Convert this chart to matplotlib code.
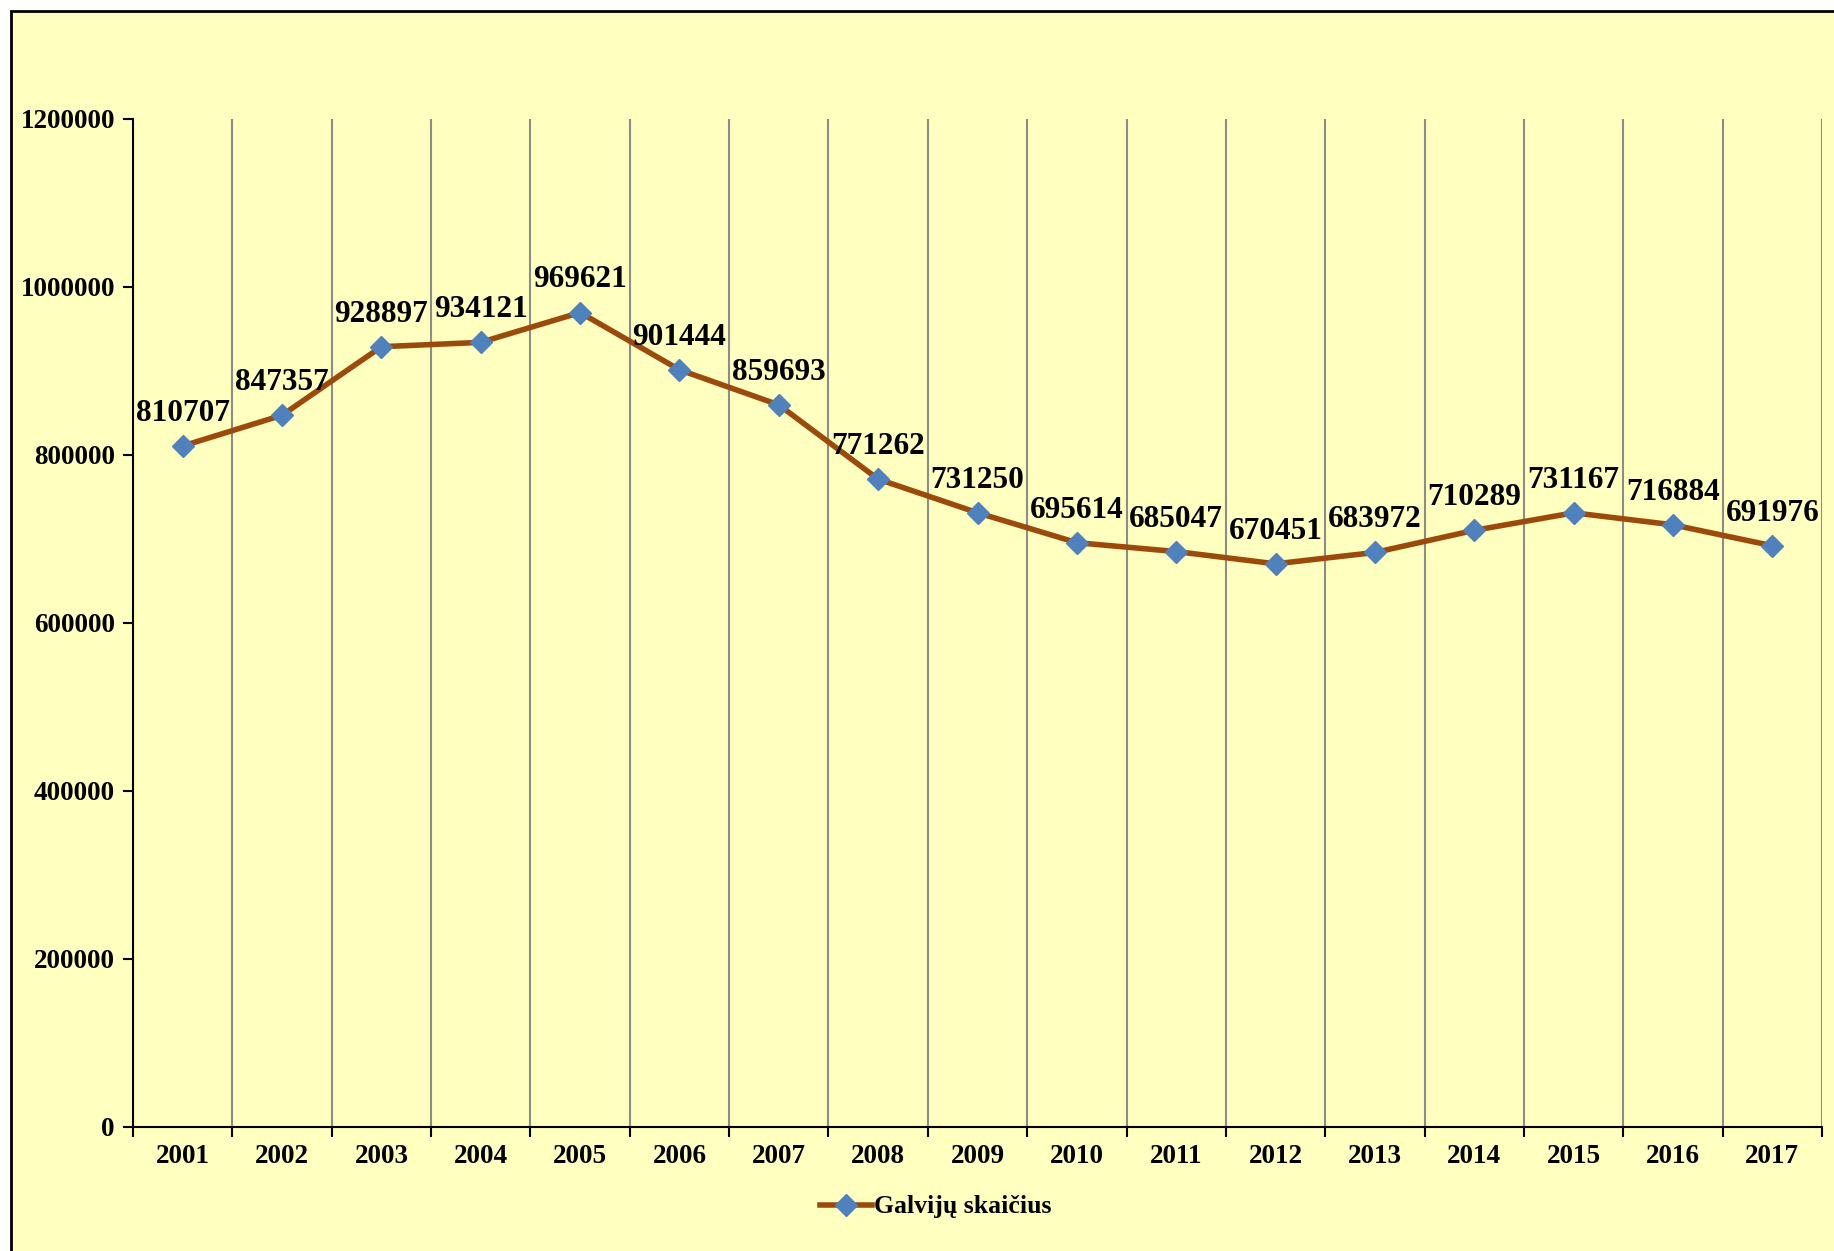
import matplotlib
matplotlib.use("Agg")
import matplotlib.pyplot as plt
from matplotlib.patches import Rectangle
from matplotlib.ticker import FixedLocator, NullFormatter

years = ["2001", "2002", "2003", "2004", "2005", "2006", "2007", "2008", "2009",
         "2010", "2011", "2012", "2013", "2014", "2015", "2016", "2017"]
values = [810707, 847357, 928897, 934121, 969621, 901444, 859693, 771262, 731250,
          695614, 685047, 670451, 683972, 710289, 731167, 716884, 691976]
yticks = [0, 200000, 400000, 600000, 800000, 1000000, 1200000]
series_name = "Galvijų skaičius"

plt.rcParams['font.family'] = ['Liberation Serif', 'DejaVu Serif']
plt.rcParams['font.weight'] = 'bold'

W, H = 1834, 1251
fig = plt.figure(figsize=(W / 100, H / 100), dpi=100)
fig.patch.set_facecolor('white')
bg = '#FFFFC0'
fig.patches.append(Rectangle((11 / W, -0.1), 1.2, 1.1 - 11 / H, transform=fig.transFigure,
                             facecolor=bg, edgecolor='black', linewidth=2.0, zorder=-10))

ax = fig.add_axes([133 / W, 1 - 1127 / H, (1822 - 133) / W, (1127 - 119) / H])
ax.set_facecolor('none')

x = list(range(len(years)))
ax.plot(x, values, color='#9C4A0C', linewidth=4.0, marker='D', markersize=11,
        markerfacecolor='#4F81BD', markeredgecolor='#4F81BD', label=series_name, zorder=3)

for xi, v in zip(x, values):
    ax.annotate(str(v), (xi, v), xytext=(0, 13), textcoords='offset points',
                ha='center', va='bottom', fontsize=22.5, fontweight='bold', zorder=4)

ax.set_xlim(-0.5, len(years) - 0.5)
ax.set_ylim(0, 1200000)
ax.set_yticks(yticks)
ax.set_yticklabels([str(t) for t in yticks], fontsize=19.5, fontweight='bold')

# category ticks at boundaries, labels at centres
ax.xaxis.set_major_locator(FixedLocator([i - 0.5 for i in range(len(years) + 1)]))
ax.xaxis.set_major_formatter(NullFormatter())
ax.xaxis.set_minor_locator(FixedLocator(x))
ax.set_xticklabels(years, minor=True, fontsize=19.5, fontweight='bold')
ax.tick_params(axis='x', which='minor', length=0, pad=12)
ax.tick_params(axis='x', which='major', length=7, width=1.5, direction='out')
ax.tick_params(axis='y', length=7, width=1.5, direction='out', pad=6)

for b in range(1, len(years) + 1):
    ax.axvline(b - 0.5, color='#8C8C8C', linewidth=1.5, zorder=1)

for s in ['top', 'right']:
    ax.spines[s].set_visible(False)
for s in ['left', 'bottom']:
    ax.spines[s].set_linewidth(1.5)
    ax.spines[s].set_color('black')

leg = fig.legend(loc='center', bbox_to_anchor=(936 / W, 1 - 1207 / H), frameon=False,
                 prop={'size': 18.5, 'weight': 'bold'}, handlelength=2.0, handletextpad=0.1)

fig.savefig('out.png', dpi=100, facecolor=fig.get_facecolor())
